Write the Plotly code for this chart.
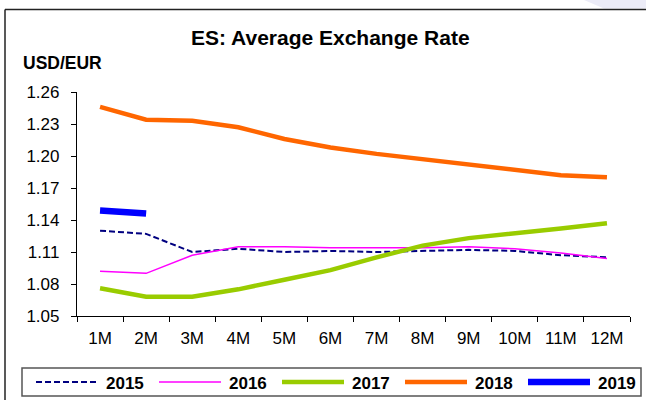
import plotly.graph_objects as go

# Monthly average USD/EUR exchange rate by year
months = ["1M", "2M", "3M", "4M", "5M", "6M", "7M", "8M", "9M", "10M", "11M", "12M"]
rate_2015 = [1.130, 1.127, 1.110, 1.113, 1.110, 1.111, 1.110, 1.111, 1.112, 1.111, 1.107, 1.105]
rate_2016 = [1.092, 1.090, 1.107, 1.115, 1.115, 1.114, 1.114, 1.114, 1.115, 1.113, 1.109, 1.104]
rate_2017 = [1.076, 1.068, 1.068, 1.075, 1.084, 1.093, 1.105, 1.116, 1.123, 1.127, 1.132, 1.137]
rate_2018 = [1.246, 1.234, 1.233, 1.227, 1.216, 1.208, 1.202, 1.197, 1.193, 1.187, 1.182, 1.180]
rate_2019 = [1.149, 1.146]
y_ticks = [1.05, 1.08, 1.11, 1.14, 1.17, 1.20, 1.23, 1.26]

series = [
    ("2015", rate_2015),
    ("2016", rate_2016),
    ("2017", rate_2017),
    ("2018", rate_2018),
    ("2019", rate_2019),
]
styles = {
    "2015": dict(color="#000080", width=2, dash="6px,3px"),
    "2016": dict(color="#FF00FF", width=1.5, dash="solid"),
    "2017": dict(color="#99CC00", width=4.5, dash="solid"),
    "2018": dict(color="#FF6600", width=4.5, dash="solid"),
    "2019": dict(color="#0000FF", width=6.5, dash="solid"),
}

W, H = 646, 400
L, R, T, B = 77, 16, 92, 84
PW, PH = W - L - R, H - T - B


def px(x):
    return (x - L) / PW


def py(y):
    return (H - B - y) / PH


FONT = "Liberation Sans, Arial, sans-serif"

fig = go.Figure()
for name, vals in series:
    st = styles[name]
    fig.add_trace(go.Scatter(
        x=months[:len(vals)], y=vals, mode="lines", name=name,
        line=dict(color=st["color"], width=st["width"], dash=st["dash"]),
        showlegend=False,
    ))

shapes = []
annotations = []

# Outer frame (open to the right and bottom)
shapes.append(dict(type="line", xref="paper", yref="paper",
                   x0=px(5), x1=px(W + 10), y0=py(9.5), y1=py(9.5),
                   line=dict(color="#222222", width=1.5)))
shapes.append(dict(type="line", xref="paper", yref="paper",
                   x0=px(5), x1=px(5), y0=py(9.5), y1=py(H + 10),
                   line=dict(color="#222222", width=1.5)))
# faint corner tint above the frame
shapes.append(dict(type="path", xref="paper", yref="paper", layer="below",
                   path=f"M {px(584)},{py(0)} L {px(W)},{py(0)} L {px(W)},{py(8.5)} L {px(604)},{py(8.5)} Z",
                   fillcolor="#ECECF7", line=dict(width=0)))

# Legend box
shapes.append(dict(type="rect", xref="paper", yref="paper",
                   x0=px(22), x1=px(641), y0=py(368), y1=py(396),
                   line=dict(color="#555555", width=1.5), fillcolor="white"))
leg_y = 382
for i, (name, _) in enumerate(series):
    st = styles[name]
    x0 = 36 + i * 123
    shapes.append(dict(type="line", xref="paper", yref="paper",
                       x0=px(x0), x1=px(x0 + 62), y0=py(leg_y), y1=py(leg_y),
                       line=dict(color=st["color"], width=st["width"], dash=st["dash"])))
    annotations.append(dict(xref="paper", yref="paper", x=px(x0 + 68), y=py(leg_y + 1),
                            xanchor="left", yanchor="middle", showarrow=False,
                            text=f"<b>{name}</b>", font=dict(family=FONT, size=17, color="black")))

annotations.append(dict(xref="paper", yref="paper", x=px(330), y=py(38),
                        xanchor="center", yanchor="middle", showarrow=False,
                        text="<b>ES: Average Exchange Rate</b>",
                        font=dict(family=FONT, size=21, color="black")))
annotations.append(dict(xref="paper", yref="paper", x=px(21), y=py(63),
                        xanchor="left", yanchor="middle", showarrow=False,
                        text="<b>USD/EUR</b>",
                        font=dict(family=FONT, size=17.5, color="black")))

fig.update_layout(
    width=W, height=H,
    margin=dict(l=L, r=R, t=T, b=B, pad=0),
    paper_bgcolor="white", plot_bgcolor="white",
    shapes=shapes, annotations=annotations,
    showlegend=False,
)
fig.update_xaxes(
    type="category", categoryorder="array", categoryarray=months,
    range=[-0.5, len(months) - 0.5],
    showgrid=False, zeroline=False,
    showline=True, linecolor="black", linewidth=1.2,
    ticks="outside", ticklen=5, tickcolor="black", tickwidth=1.2,
    tickson="boundaries", ticklabelstandoff=6,
    tickfont=dict(family=FONT, size=17, color="black"),
)
fig.update_yaxes(
    range=[1.05, 1.26], tickvals=y_ticks, tickformat=".2f",
    showgrid=False, zeroline=False,
    showline=True, linecolor="black", linewidth=1.2,
    ticks="outside", ticklen=5, tickcolor="black", tickwidth=1.2,
    ticklabelstandoff=8,
    tickfont=dict(family=FONT, size=17, color="black"),
)

fig.write_html("out.html")
